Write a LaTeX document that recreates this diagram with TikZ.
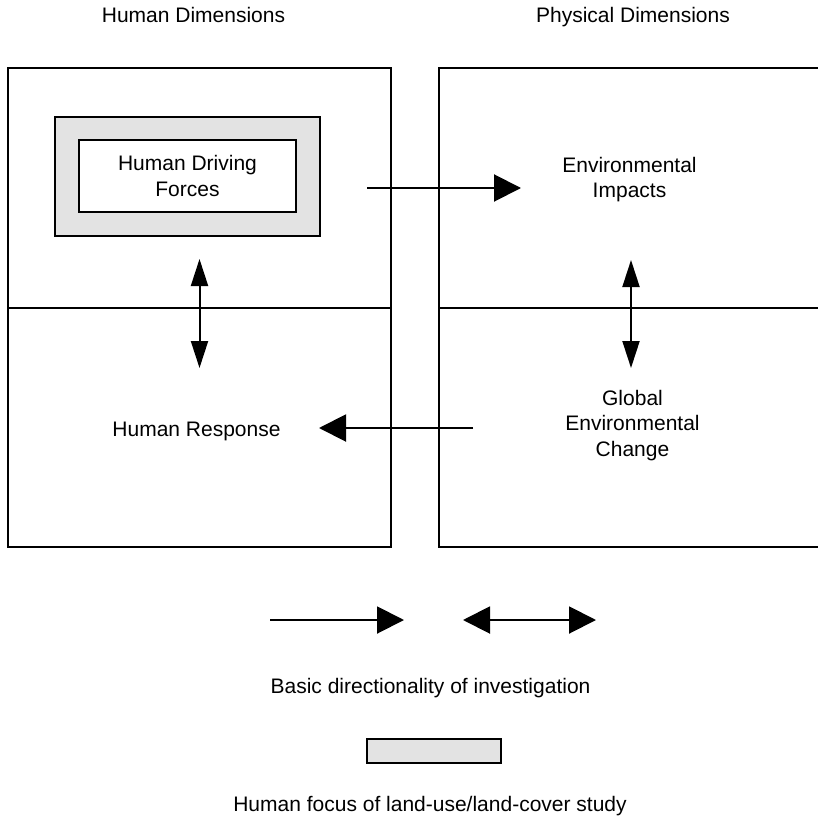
\documentclass[tikz,border=0pt]{standalone}
\usepackage{fontspec}
\setmainfont{Liberation Sans}
\usetikzlibrary{arrows.meta}
\definecolor{focusgray}{HTML}{E3E3E3}
\tikzset{
  frame/.style={draw=black, line width=2pt},
  lbl/.style={font=\fontsize{21}{25.5}\selectfont, inner sep=0pt, align=center},
  harrow/.style={line width=2pt, -{Triangle[length=27pt,width=27pt]}},
  hdarrow/.style={line width=2pt, {Triangle[length=27pt,width=27pt]}-{Triangle[length=27pt,width=27pt]}},
  vdarrow/.style={line width=2pt, {Triangle[length=27pt,width=17pt]}-{Triangle[length=27pt,width=17pt]}}
}
\begin{document}
\begin{tikzpicture}[x=1pt,y=-1pt]
\useasboundingbox (0,0) rectangle (818,818);
% titles
\node[lbl, anchor=base] (thd) at (193.5,23) {Human Dimensions};
\node[lbl, anchor=base] (tpd) at (633,23) {Physical Dimensions};
% quadrant frames
\draw[frame] (8,68) rectangle (391,547);
\draw[frame] (8,308) -- (391,308);
\draw[frame] (439,68) rectangle (824,547);
\draw[frame] (439,308) -- (824,308);
% human driving forces
\draw[frame, fill=focusgray] (55,117) rectangle (320,236);
\node[frame, fill=white, minimum width=217pt, minimum height=72pt, lbl] (hdf) at (187.5,176) {Human Driving\\Forces};
% other labels
\node[lbl] (ei) at (629.5,179.5) {Environmental\\Impacts};
\node[lbl, anchor=base] (hr) at (196.5,436) {Human Response};
\node[lbl] (gec) at (632.5,425.5) {Global\\Environmental\\Change};
% arrow coordinates
\coordinate (a1s) at (367,188);
\coordinate (a1e) at (521,188);
\coordinate (a2s) at (473,428);
\coordinate (a2e) at (319,428);
\coordinate (v1t) at (199.5,259);
\coordinate (v1b) at (199.5,368);
\coordinate (v2t) at (631,260);
\coordinate (v2b) at (631,368);
\draw[harrow] (a1s) -- (a1e);
\draw[harrow] (a2s) -- (a2e);
\draw[vdarrow] (v1t) -- (v1b);
\draw[vdarrow] (v2t) -- (v2b);
% legend
\coordinate (l1s) at (270,620);
\coordinate (l1e) at (404,620);
\coordinate (l2s) at (463,620);
\coordinate (l2e) at (596,620);
\draw[harrow] (l1s) -- (l1e);
\draw[hdarrow] (l2s) -- (l2e);
\node[lbl, anchor=base] (bdi) at (430.5,693) {Basic directionality of investigation};
\draw[frame, fill=focusgray] (367,739) rectangle (501,763);
\node[lbl, anchor=base] (hfs) at (430,811) {Human focus of land-use/land-cover study};
\end{tikzpicture}
\end{document}
